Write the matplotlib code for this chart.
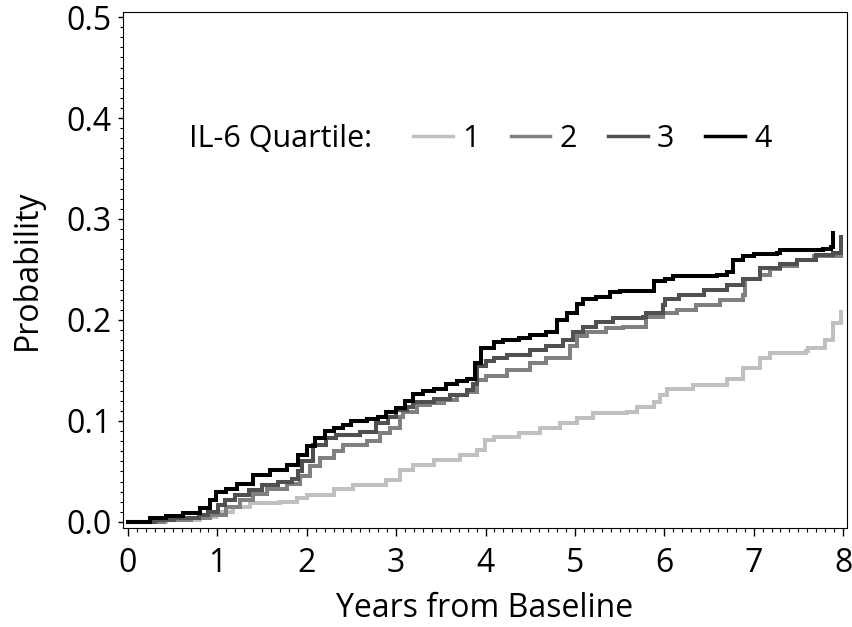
import numpy as np
import matplotlib
matplotlib.use("Agg")
import matplotlib.pyplot as plt
from matplotlib.ticker import MultipleLocator

plt.rcParams['font.family'] = ['Open Sans', 'DejaVu Sans']

# cumulative incidence by IL-6 quartile
t1 = [0.00, 0.43, 0.80, 0.99, 1.18, 1.36, 1.70, 1.89, 2.00, 2.30, 2.52, 2.89, 3.04, 3.19,
      3.42, 3.71, 3.90, 3.99, 4.09, 4.38, 4.61, 4.83, 5.02, 5.20, 5.58, 5.69, 5.88, 5.95,
      6.03, 6.32, 6.70, 6.88, 7.07, 7.18, 7.59, 7.61, 7.80, 7.89, 7.98]
p1 = [0.000, 0.002, 0.005, 0.010, 0.015, 0.0185, 0.020, 0.0235, 0.027, 0.033, 0.037, 0.042,
      0.0515, 0.056, 0.061, 0.066, 0.071, 0.081, 0.0845, 0.088, 0.093, 0.098, 0.103, 0.108,
      0.109, 0.114, 0.119, 0.126, 0.132, 0.136, 0.142, 0.152, 0.162, 0.167, 0.169, 0.172,
      0.180, 0.197, 0.208]

t2 = [0.00, 0.40, 0.70, 0.92, 1.10, 1.25, 1.40, 1.55, 1.78, 1.92, 2.04, 2.15, 2.30, 2.41,
      2.67, 2.82, 2.93, 3.04, 3.08, 3.23, 3.38, 3.53, 3.68, 3.79, 3.90, 4.01, 4.24, 4.50,
      4.68, 4.94, 5.02, 5.13, 5.35, 5.54, 5.80, 5.99, 6.14, 6.36, 6.62, 6.88, 6.90, 7.07,
      7.18, 7.29, 7.48, 7.67, 7.98]
p2 = [0.000, 0.002, 0.004, 0.007, 0.015, 0.022, 0.028, 0.033, 0.038, 0.045, 0.055, 0.063,
      0.070, 0.076, 0.080, 0.088, 0.093, 0.104, 0.109, 0.116, 0.118, 0.121, 0.126, 0.129,
      0.141, 0.145, 0.150, 0.157, 0.162, 0.174, 0.184, 0.188, 0.192, 0.193, 0.203, 0.207,
      0.210, 0.215, 0.220, 0.225, 0.241, 0.245, 0.250, 0.253, 0.259, 0.263, 0.271]

t3 = [0.00, 0.30, 0.52, 0.79, 0.90, 1.01, 1.08, 1.20, 1.35, 1.50, 1.68, 1.83, 1.90, 1.95,
      2.07, 2.22, 2.33, 2.60, 2.78, 2.91, 3.00, 3.12, 3.19, 3.42, 3.60, 3.79, 3.86, 3.90,
      4.00, 4.09, 4.24, 4.50, 4.68, 4.87, 4.98, 5.09, 5.24, 5.43, 5.76, 5.80, 5.99, 6.01,
      6.17, 6.44, 6.70, 6.88, 7.07, 7.29, 7.48, 7.70, 7.89, 7.98]
p3 = [0.000, 0.002, 0.004, 0.007, 0.010, 0.017, 0.022, 0.027, 0.032, 0.037, 0.040, 0.043,
      0.050, 0.060, 0.076, 0.083, 0.086, 0.089, 0.098, 0.104, 0.111, 0.114, 0.119, 0.122,
      0.126, 0.131, 0.137, 0.154, 0.159, 0.162, 0.165, 0.170, 0.174, 0.180, 0.188, 0.193,
      0.198, 0.202, 0.203, 0.207, 0.215, 0.221, 0.225, 0.230, 0.235, 0.241, 0.251, 0.255,
      0.259, 0.264, 0.266, 0.282]

t4 = [0.00, 0.25, 0.43, 0.62, 0.80, 0.92, 0.99, 1.10, 1.22, 1.40, 1.59, 1.78, 1.90, 2.00,
      2.09, 2.20, 2.30, 2.41, 2.50, 2.67, 2.80, 2.89, 3.00, 3.10, 3.19, 3.30, 3.42, 3.56,
      3.68, 3.79, 3.88, 3.95, 4.09, 4.20, 4.38, 4.50, 4.68, 4.80, 4.91, 5.02, 5.09, 5.24,
      5.39, 5.50, 5.89, 6.01, 6.10, 6.59, 6.70, 6.77, 6.88, 7.00, 7.26, 7.29, 7.78, 7.87, 7.89]
p4 = [0.000, 0.004, 0.006, 0.009, 0.0135, 0.022, 0.030, 0.033, 0.038, 0.046, 0.051, 0.056,
      0.066, 0.075, 0.083, 0.090, 0.093, 0.096, 0.100, 0.102, 0.104, 0.109, 0.113, 0.120,
      0.127, 0.130, 0.132, 0.137, 0.140, 0.142, 0.157, 0.172, 0.178, 0.180, 0.182, 0.185,
      0.188, 0.200, 0.207, 0.216, 0.221, 0.223, 0.228, 0.229, 0.239, 0.241, 0.244, 0.245,
      0.248, 0.259, 0.263, 0.265, 0.266, 0.269, 0.270, 0.272, 0.286]

labels = ["1", "2", "3", "4"]
colors = ["#c0c0c0", "#808080", "#505050", "#000000"]

fig = plt.figure(figsize=(8.53, 6.27), dpi=100)
ax = fig.add_axes([0.1442, 0.1579, 0.8488, 0.823])

for t, p, lab, c in zip([t1, t2, t3, t4], [p1, p2, p3, p4], labels, colors):
    ax.plot(t, p, drawstyle="steps-post", color=c, lw=2.9, label=lab,
            solid_joinstyle="miter")

ax.set_xlim(-0.056, 8.045)
ax.set_ylim(-0.006, 0.505)
ax.xaxis.set_major_locator(MultipleLocator(1))
ax.xaxis.set_minor_locator(MultipleLocator(0.1))
ax.yaxis.set_major_locator(MultipleLocator(0.1))
ax.yaxis.set_minor_locator(MultipleLocator(0.01))
ax.yaxis.set_major_formatter(plt.FormatStrFormatter("%.1f"))

ax.tick_params(axis="x", which="major", length=6, width=1, labelsize=23, pad=8)
ax.tick_params(axis="x", which="minor", length=3, width=0.8)
ax.tick_params(axis="y", which="major", length=3.5, width=1, labelsize=23, pad=5)
ax.tick_params(axis="y", which="minor", length=2, width=0.8)
for s in ax.spines.values():
    s.set_linewidth(0.8)

ax.set_xlabel("Years from Baseline", fontsize=23, labelpad=8)
ax.set_ylabel("Probability", fontsize=23, labelpad=16)

fig.text(189 / 853, 1 - 139 / 627, "IL-6 Quartile:", fontsize=22, va="center", ha="left")
leg = ax.legend(loc="center left", bbox_to_anchor=(413 / 853, 1 - 139 / 627),
                bbox_transform=fig.transFigure, ncol=4, frameon=False, fontsize=22,
                handlelength=1.3, handletextpad=0.3, columnspacing=1.02,
                borderpad=0, borderaxespad=0)
for h in leg.get_lines():
    h.set_linewidth(2.5)

fig.savefig("out.png", dpi=100)
